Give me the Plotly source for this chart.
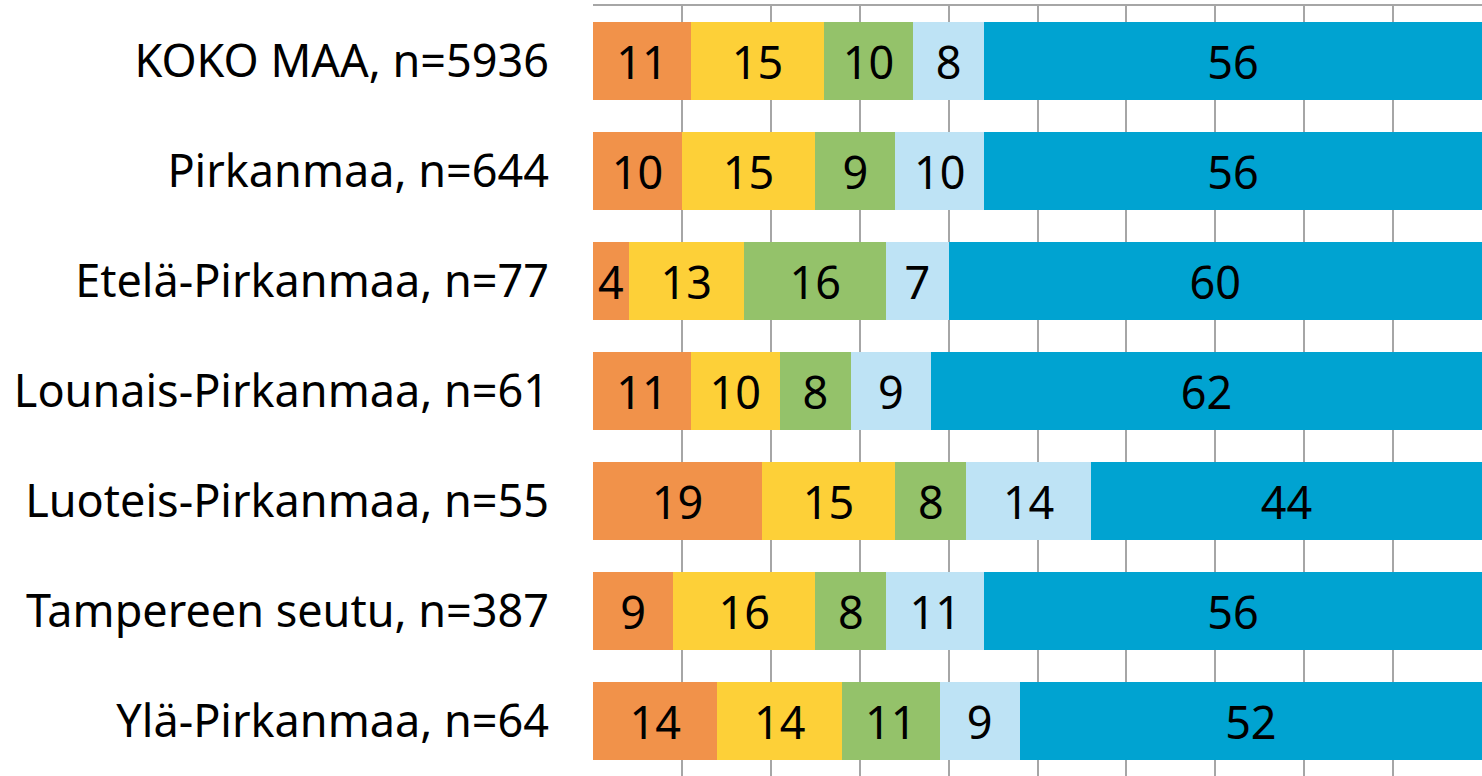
import plotly.graph_objects as go

categories = [
    "KOKO MAA, n=5936",
    "Pirkanmaa, n=644",
    "Etelä-Pirkanmaa, n=77",
    "Lounais-Pirkanmaa, n=61",
    "Luoteis-Pirkanmaa, n=55",
    "Tampereen seutu, n=387",
    "Ylä-Pirkanmaa, n=64",
]
series1 = [11, 10, 4, 11, 19, 9, 14]
series2 = [15, 15, 13, 10, 15, 16, 14]
series3 = [10, 9, 16, 8, 8, 8, 11]
series4 = [8, 10, 7, 9, 14, 11, 9]
series5 = [56, 56, 60, 62, 44, 56, 52]
colors = ["#F1924A", "#FDD038", "#94C26A", "#BEE3F5", "#00A3D1"]

fig = go.Figure()
for vals, col in zip([series1, series2, series3, series4, series5], colors):
    fig.add_trace(go.Bar(
        y=categories, x=vals, orientation="h",
        marker=dict(color=col, line=dict(width=0)),
        text=[str(v) for v in vals], textposition="inside",
        insidetextanchor="middle", textangle=0,
        textfont=dict(color="black", size=45, family="Noto Sans"),
        showlegend=False, hoverinfo="skip",
    ))

fig.update_layout(
    barmode="stack", bargap=0.29,
    width=1482, height=776,
    margin=dict(l=593, r=0, t=6, b=0),
    paper_bgcolor="white", plot_bgcolor="white",
    uniformtext=dict(minsize=45, mode="show"),
    font=dict(family="Noto Sans", color="black"),
)
fig.update_xaxes(range=[0, 100], dtick=10, showgrid=True, gridcolor="#A6A6A6",
                 gridwidth=2, showticklabels=False, zeroline=False,
                 side="top", showline=True, linecolor="#A6A6A6", linewidth=2)
fig.update_yaxes(autorange="reversed", showgrid=False,
                 tickfont=dict(size=45, family="Noto Sans", color="black"),
                 ticklabelstandoff=43)
fig.write_html("out.html", config={"displayModeBar": False},
               post_script="document.body.style.margin='0';document.body.style.overflow='hidden';")
